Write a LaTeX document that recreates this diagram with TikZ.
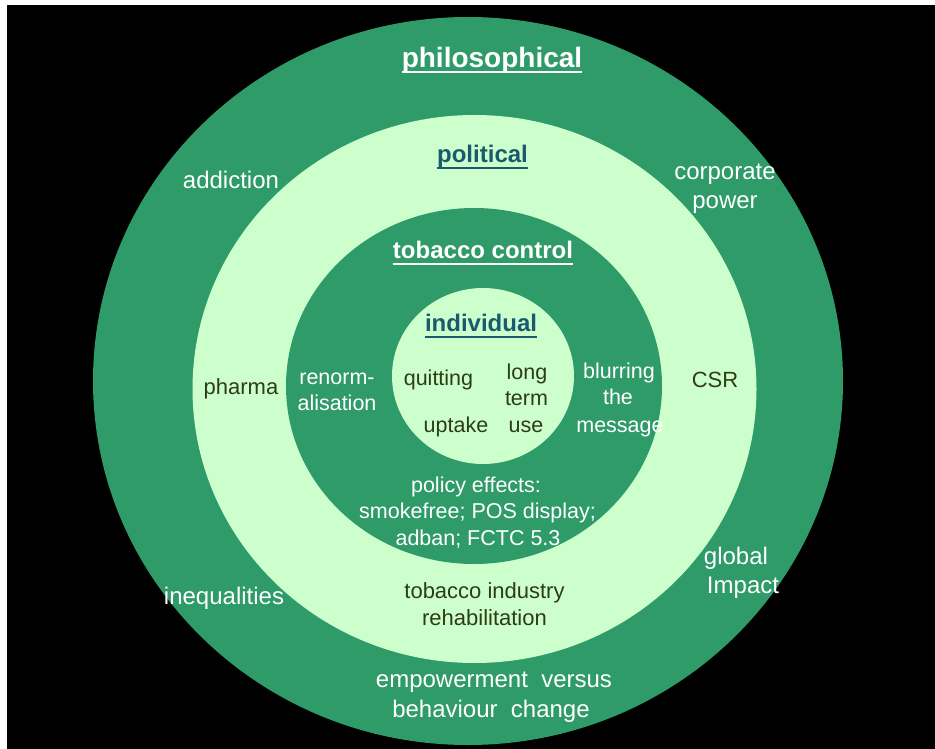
\documentclass[tikz,border=0pt]{standalone}
\usepackage{fontspec}
\setmainfont{Liberation Sans}
\usetikzlibrary{calc}
\definecolor{dkgreen}{RGB}{46,155,104}
\definecolor{ltgreen}{RGB}{204,255,204}
\definecolor{headblue}{RGB}{25,90,110}
\definecolor{darktxt}{RGB}{45,60,20}
\tikzset{
  lbl/.style={inner sep=0pt, anchor=mid},
  outertxt/.style={lbl, text=white, font=\fontsize{24}{30}\selectfont},
  innerw/.style={lbl, text=white, font=\fontsize{21.5}{27}\selectfont},
  innerd/.style={lbl, text=darktxt, font=\fontsize{21.5}{27}\selectfont},
  outerd/.style={lbl, text=darktxt, font=\fontsize{22}{27}\selectfont},
  headw/.style={lbl, text=white, font=\fontsize{24}{30}\selectfont\bfseries},
  headb/.style={lbl, text=headblue, font=\fontsize{24}{30}\selectfont\bfseries},
  uline/.style={line width=2pt}
}
\begin{document}
\begin{tikzpicture}[x=1pt,y=-1pt]
\useasboundingbox (0,0) rectangle (935,749);
\fill[white] (0,0) rectangle (935,749);
\fill[black] (7,5) rectangle (935,749);
% rings
\fill[dkgreen] (468,381) ellipse [x radius=375, y radius=364];
\fill[ltgreen] (474.5,389) ellipse [x radius=282, y radius=274];
\fill[dkgreen] (474,386) ellipse [x radius=188, y radius=178];
\fill[ltgreen] (483,376) ellipse [x radius=91, y radius=88];
% headings
\node[headw, font=\fontsize{28}{33}\selectfont\bfseries] (philo) at (492,65) {philosophical};
\draw[uline, white] ($(philo.base west)+(0,4)$) -- ($(philo.base east)+(0,4)$);
\node[headb] (polit) at (482.5,160) {political};
\draw[uline, headblue] ($(polit.base west)+(0,5)$) -- ($(polit.base east)+(0,5)$);
\node[headw] (tcontrol) at (483,256) {tobacco control};
\draw[uline, white] ($(tcontrol.base west)+(0,5)$) -- ($(tcontrol.base east)+(0,5)$);
\node[headb] (indiv) at (481,329) {individual};
\draw[uline, headblue] ($(indiv.base west)+(0,5)$) -- ($(indiv.base east)+(0,5)$);
% outer ring
\node[outertxt] (addiction) at (231,186) {addiction};
\node[outertxt] (corp1) at (725,177) {corporate};
\node[outertxt] (corp2) at (725,206) {power};
\node[outertxt] (global1) at (736,562) {global};
\node[outertxt] (global2) at (743,591) {Impact};
\node[outertxt] (ineq) at (224,602) {inequalities};
\node[outertxt] (emp1) at (494,685) {empowerment\ \ versus};
\node[outertxt] (emp2) at (491,715) {behaviour\ \ change};
% light ring
\node[outerd] (pharma) at (241,392) {pharma};
\node[outerd] (csr) at (715,385) {CSR};
\node[outerd] (tir1) at (484.5,596) {tobacco industry};
\node[outerd] (tir2) at (484.5,623) {rehabilitation};
% dark inner ring
\node[innerw] (ren1) at (337,382) {renorm-};
\node[innerw] (ren2) at (337,408) {alisation};
\node[innerw] (blur1) at (619,376) {blurring};
\node[innerw] (blur2) at (618,402) {the};
\node[innerw] (blur3) at (620,430) {message};
\node[innerw] (pol1) at (476,490) {policy effects:};
\node[innerw] (pol2) at (477.5,516) {smokefree; POS display;};
\node[innerw] (pol3) at (478,543) {adban; FCTC 5.3};
% centre
\node[innerd] (quit) at (438.5,383) {quitting};
\node[innerd] (upt) at (456,430) {uptake};
\node[innerd] (lt1) at (527,377) {long};
\node[innerd] (lt2) at (526.5,403) {term};
\node[innerd] (lt3) at (526,430) {use};
\end{tikzpicture}
\end{document}
